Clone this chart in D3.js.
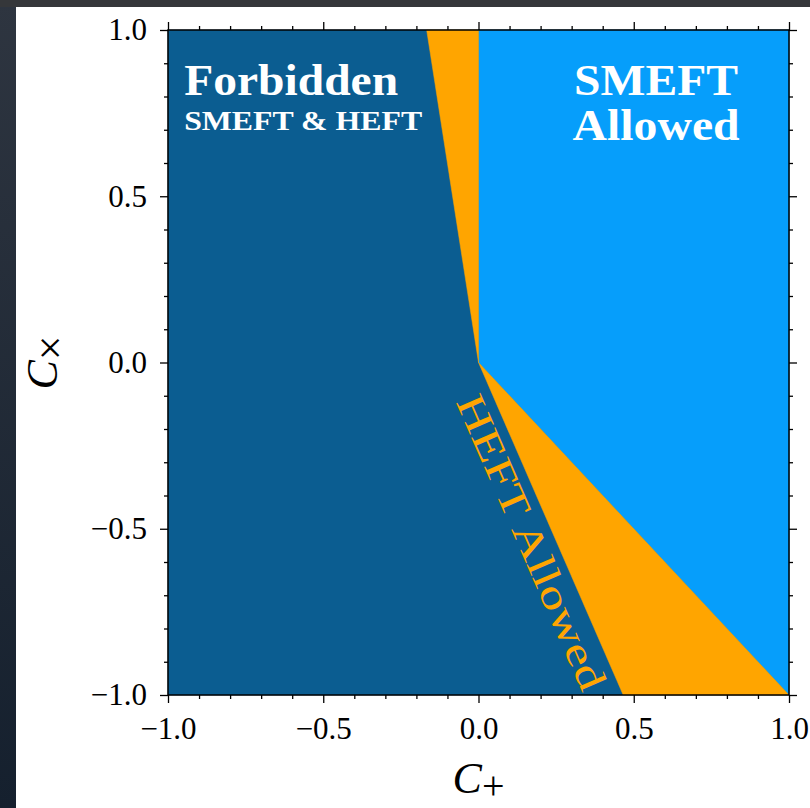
<!DOCTYPE html>
<html>
<head>
<meta charset="utf-8">
<script src="https://cdn.jsdelivr.net/npm/d3@7"></script>
<style>
  html, body { margin: 0; padding: 0; background: #222a35; }
  svg { display: block; }
</style>
</head>
<body>
<svg id="chart" width="810" height="808"></svg>
<script>
// ---------- data ----------
const xDomain = [-1, 1];
const yDomain = [-1, 1];
const majorTicks = [-1, -0.5, 0, 0.5, 1];
const tickLabels = ["\u22121.0", "\u22120.5", "0.0", "0.5", "1.0"];
const minorTicks = [-0.9, -0.8, -0.7, -0.6, -0.4, -0.3, -0.2, -0.1, 0.1, 0.2, 0.3, 0.4, 0.6, 0.7, 0.8, 0.9];

// region polygons in (C+, Cx) data coordinates
const forbiddenRegion = [[-1, 1], [1, 1], [1, -1], [-1, -1]];
const smeftRegion = [[0, 1], [1, 1], [1, -1], [0, 0]];
const heftUpperRegion = [[-0.167, 1], [0, 1], [0, 0]];
const heftLowerRegion = [[0, 0], [1, -1], [0.466, -1]];
const regionColors = ["#0b5d91", "#069efb", "#ffa500", "#ffa500"];

// labels: [text, x, y, anchor, weight, size, width]
const regionLabels = [
  ["Forbidden", -0.948, 0.805, "start", "bold", 44, 214],
  ["SMEFT & HEFT", -0.948, 0.699, "start", "bold", 28, 238],
  ["SMEFT", 0.572, 0.805, "middle", "bold", 44, 164],
  ["Allowed", 0.572, 0.669, "middle", "bold", 44, 167]
];
const heftLabel = { text: "HEFT Allowed", x: 0.172, y: -0.54, size: 40 };

// ---------- layout ----------
const svg = d3.select("#chart");
const W = 810, H = 808;
const plot = { left: 168, right: 789, top: 30, bottom: 695 };
const serif = "'Liberation Serif', 'Times New Roman', serif";

const x = d3.scaleLinear().domain(xDomain).range([plot.left, plot.right]);
const y = d3.scaleLinear().domain(yDomain).range([plot.bottom, plot.top]);

// background (dark screenshot border + white page)
const defs = svg.append("defs");
const grad = defs.append("linearGradient").attr("id", "bgGrad").attr("x1", 0).attr("y1", 0).attr("x2", 0).attr("y2", 1);
grad.append("stop").attr("offset", "0%").attr("stop-color", "#2e3540");
grad.append("stop").attr("offset", "100%").attr("stop-color", "#15202e");
svg.append("rect").attr("width", W).attr("height", H).attr("fill", "url(#bgGrad)");
svg.append("rect").attr("x", 0).attr("y", 0).attr("width", W).attr("height", 7).attr("fill", "#35373a");
svg.append("rect").attr("x", 16).attr("y", 7).attr("width", W - 16).attr("height", H - 7).attr("fill", "#ffffff");

// regions
const line = d3.line().x(d => x(d[0])).y(d => y(d[1]));
const regions = [forbiddenRegion, smeftRegion, heftUpperRegion, heftLowerRegion];
svg.append("g").selectAll("path").data(regions).join("path")
  .attr("d", d => line(d) + "Z")
  .attr("fill", (d, i) => regionColors[i])
  .attr("stroke", (d, i) => regionColors[i])
  .attr("stroke-width", 0.5);

// region labels
svg.append("g").selectAll("text").data(regionLabels).join("text")
  .attr("x", d => x(d[1]))
  .attr("y", d => y(d[2]))
  .attr("text-anchor", d => d[3])
  .attr("font-weight", d => d[4])
  .attr("font-size", d => d[5])
  .attr("textLength", d => d[6])
  .attr("lengthAdjust", "spacingAndGlyphs")
  .attr("font-family", serif)
  .attr("fill", "#ffffff")
  .text(d => d[0]);

// HEFT label rotated along the lower boundary
const angle = Math.atan2(y(heftLowerRegion[2][1]) - y(heftLowerRegion[0][1]),
                         x(heftLowerRegion[2][0]) - x(heftLowerRegion[0][0])) * 180 / Math.PI;
svg.append("text")
  .attr("transform", `translate(${x(heftLabel.x)},${y(heftLabel.y)}) rotate(${angle})`)
  .attr("text-anchor", "middle")
  .attr("dy", "0.35em")
  .attr("font-family", serif)
  .attr("font-size", heftLabel.size)
  .attr("textLength", 318)
  .attr("lengthAdjust", "spacingAndGlyphs")
  .attr("fill", "#ffa500")
  .text(heftLabel.text);

// axes
function styleAxis(g) {
  g.select(".domain").remove();
  g.selectAll(".tick line").attr("stroke", "#000").attr("stroke-width", 1.3);
  g.selectAll(".tick text").attr("font-family", serif).attr("font-size", 31).attr("fill", "#000");
}
const fmt = (d) => tickLabels[majorTicks.indexOf(d)];

svg.append("g").attr("transform", `translate(0,${plot.bottom})`)
  .call(d3.axisBottom(x).tickValues(majorTicks).tickFormat(fmt).tickSize(8).tickPadding(14)).call(styleAxis);
svg.append("g").attr("transform", `translate(0,${plot.bottom})`)
  .call(d3.axisBottom(x).tickValues(minorTicks).tickFormat("").tickSize(4)).call(styleAxis);
svg.append("g").attr("transform", `translate(0,${plot.top})`)
  .call(d3.axisTop(x).tickValues(majorTicks).tickFormat("").tickSize(8)).call(styleAxis);
svg.append("g").attr("transform", `translate(0,${plot.top})`)
  .call(d3.axisTop(x).tickValues(minorTicks).tickFormat("").tickSize(4)).call(styleAxis);

svg.append("g").attr("transform", `translate(${plot.left},0)`)
  .call(d3.axisLeft(y).tickValues(majorTicks).tickFormat(fmt).tickSize(8).tickPadding(13)).call(styleAxis);
svg.append("g").attr("transform", `translate(${plot.left},0)`)
  .call(d3.axisLeft(y).tickValues(minorTicks).tickFormat("").tickSize(4)).call(styleAxis);
svg.append("g").attr("transform", `translate(${plot.right},0)`)
  .call(d3.axisRight(y).tickValues(majorTicks).tickFormat("").tickSize(8)).call(styleAxis);
svg.append("g").attr("transform", `translate(${plot.right},0)`)
  .call(d3.axisRight(y).tickValues(minorTicks).tickFormat("").tickSize(4)).call(styleAxis);

// frame
svg.append("rect")
  .attr("x", plot.left).attr("y", plot.top)
  .attr("width", plot.right - plot.left).attr("height", plot.bottom - plot.top)
  .attr("fill", "none").attr("stroke", "#000").attr("stroke-width", 1.5);

// axis titles
const xt = svg.append("text")
  .attr("x", (plot.left + plot.right) / 2).attr("y", 793)
  .attr("text-anchor", "middle")
  .attr("font-family", serif).attr("font-size", 44).attr("fill", "#000");
xt.append("tspan").attr("font-style", "italic").text("C");
xt.append("tspan").attr("font-size", 40).attr("dy", 6).text("+");

const yt = svg.append("text")
  .attr("transform", `translate(57,${(plot.top + plot.bottom) / 2}) rotate(-90)`)
  .attr("text-anchor", "middle")
  .attr("font-family", serif).attr("font-size", 44).attr("fill", "#000");
yt.append("tspan").attr("font-style", "italic").text("C");
yt.append("tspan").attr("font-size", 44).attr("dy", 8).text("\u00d7");
</script>
</body>
</html>
